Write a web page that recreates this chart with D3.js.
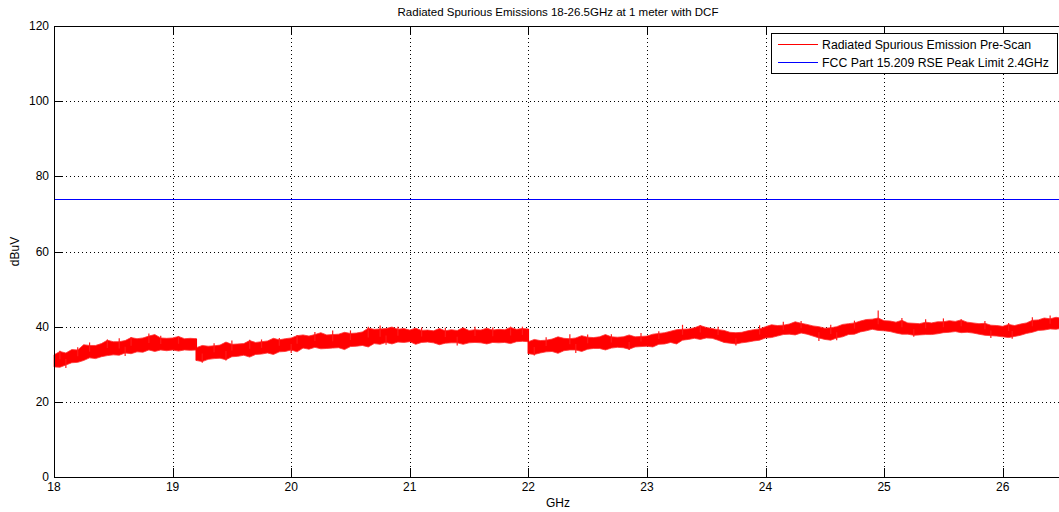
<!DOCTYPE html>
<html><head><meta charset="utf-8">
<script src="https://cdn.jsdelivr.net/npm/d3@7"></script>
<style>
body{margin:0;background:#fff;}
svg{display:block;font-family:"Liberation Sans",Arial,Helvetica,sans-serif;}
</style></head>
<body><svg id="c" width="1059" height="512"></svg>
<script>
const title = "Radiated Spurious Emissions 18-26.5GHz at 1 meter with DCF";
const xLabel = "GHz", yLabel = "dBuV";
const xTicks = [18,19,20,21,22,23,24,25,26];
const yTicks = [0,20,40,60,80,100,120];
const seriesNames = ["Radiated Spurious Emission Pre-Scan","FCC Part 15.209 RSE Peak Limit 2.4GHz"];
const limitValue = 74;
// trace envelope (upper / lower), 0.05 GHz steps per segment; segments start at these GHz
const segStart = [18.0, 19.2, 22.0];
const segStep = 0.05;
const seg1Hi = [32.5,33.4,33.0,33.9,33.8,35.2,35.0,35.0,35.5,36.4,36.0,36.0,36.3,37.1,36.8,37.0,37.5,37.9,37.0,36.9,37.0,37.4,36.8,36.9,36.8];
const seg1Lo = [29.3,29.2,29.8,30.4,30.5,31.0,31.7,31.5,32.0,32.3,32.5,32.4,33.0,32.8,33.3,33.2,33.8,33.4,33.8,33.6,33.8,33.5,33.8,33.7,33.8];
const seg2Hi = [34.4,35.0,34.8,34.9,35.1,35.9,35.3,35.4,35.5,36.3,35.8,36.0,36.2,36.9,36.5,36.8,37.0,37.6,37.8,37.5,37.9,38.4,37.8,37.9,38.0,38.5,38.2,38.3,38.6,39.6,39.3,39.4,39.5,39.9,39.3,39.5,39.1,39.6,39.0,39.1,38.9,39.5,38.9,39.2,39.0,39.7,39.0,39.2,39.1,39.6,39.1,39.3,39.2,39.8,39.3,39.5,39.4];
const seg2Lo = [31.0,30.7,31.3,31.5,31.6,31.2,32.0,32.1,32.4,31.9,32.6,32.7,33.0,32.6,33.3,33.4,33.8,33.3,34.3,34.0,34.5,34.1,34.2,34.3,34.4,33.9,34.7,34.8,35.0,34.6,35.5,35.3,35.8,35.4,35.9,35.8,36.0,35.3,35.8,35.9,35.7,35.2,35.6,35.7,35.7,35.3,35.7,35.8,35.7,35.4,35.8,35.7,35.8,35.5,36.0,36.1,36.0];
const seg3Hi = [36.0,36.6,36.3,36.4,36.7,37.3,36.9,36.8,37.0,37.6,37.2,37.1,37.3,37.9,37.3,37.2,37.3,37.8,37.3,37.4,37.5,38.0,38.2,38.4,38.8,39.2,39.3,39.4,39.7,40.3,39.8,39.5,39.2,39.0,38.5,38.4,38.5,38.9,39.2,39.4,40.0,40.5,40.3,40.4,40.7,41.3,40.9,40.6,40.2,40.0,39.6,39.7,40.0,40.6,40.8,41.0,41.5,41.9,42.0,42.3,41.6,41.5,41.2,41.7,41.0,40.9,40.8,41.2,41.0,41.3,41.3,41.6,41.4,41.8,41.2,41.0,40.8,40.9,40.4,40.3,40.1,40.6,40.3,40.7,41.0,41.7,41.8,42.3,42.1,42.5,42.2];
const seg3Lo = [32.8,32.6,33.0,33.3,33.4,32.9,33.6,33.8,33.8,33.4,34.0,34.2,34.2,33.8,34.3,34.5,34.4,34.0,34.6,34.7,34.8,34.6,35.3,35.4,35.8,35.4,36.4,36.6,36.9,36.6,37.0,36.9,36.4,35.8,35.6,35.4,35.7,35.9,36.2,36.4,37.0,37.1,37.5,37.9,38.0,37.8,38.3,38.0,37.5,37.0,36.6,36.4,37.0,37.3,37.9,38.0,38.6,38.9,39.3,39.0,38.9,38.7,38.3,38.0,38.0,37.7,37.8,37.9,37.9,38.1,38.4,38.5,38.7,38.4,38.5,38.3,38.0,37.7,37.6,37.5,37.3,37.1,37.4,37.7,38.2,38.5,39.0,39.1,39.4,39.3,39.6];
// individual noise spikes reaching beyond the band (GHz, dBuV)
const spikeFreq = [18.05,18.2,18.3,18.45,18.55,18.65,18.8,18.9,19.05,19.35,19.5,19.65,19.75,19.9,20.05,20.2,20.35,20.5,20.65,20.75,20.9,21.1,21.3,21.55,21.7,21.85,21.95,22.15,22.35,22.5,22.7,22.95,23.1,23.3,23.45,23.6,23.95,24.15,24.3,24.55,24.75,24.95,25.15,25.35,25.5,25.65,25.85,26.05,26.25,26.4,
                   18.1,18.6,19.25,19.45,20.0,20.8,21.4,22.05,22.4,22.85,23.75,24.45,24.6,25.25,25.9,26.08];
const spikeVal  = [33.6,34.5,35.8,36.6,36.9,37.2,38.2,37.6,37.4,35.6,36.3,36.5,36.6,37.0,37.8,38.6,39.0,39.0,40.0,40.3,40.0,39.8,39.7,40.0,39.8,40.0,40.0,37.2,38.0,37.9,38.0,38.3,38.8,40.5,40.4,40.0,40.4,41.3,41.5,40.5,41.6,44.3,42.3,42.0,42.2,42.0,41.5,41.0,42.5,43.0,
                   29.0,32.2,30.4,31.0,33.0,35.2,35.0,32.3,33.0,33.8,35.0,36.2,36.4,37.3,37.0,36.8];

const svg = d3.select("#c");
const L=54, R=1062, T=26, B=477;
const x = d3.scaleLinear().domain([18,26.5]).range([L,R]);
const y = d3.scaleLinear().domain([0,120]).range([B,T]);

// grid
const g = svg.append("g");
g.selectAll(".gx").data(xTicks.filter(d=>d>18)).enter().append("line")
 .attr("x1",d=>Math.round(x(d))+0.5).attr("x2",d=>Math.round(x(d))+0.5).attr("y1",T).attr("y2",B)
 .attr("stroke","#000").attr("stroke-width",1).attr("stroke-dasharray","1,3");
g.selectAll(".gy").data(yTicks.filter(d=>d>0&&d<120)).enter().append("line")
 .attr("y1",d=>Math.round(y(d))+0.5).attr("y2",d=>Math.round(y(d))+0.5).attr("x1",L).attr("x2",R)
 .attr("stroke","#000").attr("stroke-width",1).attr("stroke-dasharray","1,3");

// trace
const segs = [[seg1Hi,seg1Lo],[seg2Hi,seg2Lo],[seg3Hi,seg3Lo]].map((p,si)=>p[0].map((h,i)=>({f:segStart[si]+i*segStep,hi:h,lo:p[1][i]})));
const all = segs.flat();
const area = d3.area().x(d=>x(d.f)).y0(d=>y(d.lo)).y1(d=>y(d.hi));
segs.forEach(s=>{
  svg.append("path").attr("d",area(s)).attr("fill","#ff0000").attr("stroke","#ff3030").attr("stroke-width",0.8);
});
for(let si=1;si<segs.length;si++){
  const prev=segs[si-1][segs[si-1].length-1], cur=segs[si][0];
  svg.append("line").attr("x1",x(cur.f)).attr("x2",x(cur.f)).attr("y1",y(prev.hi)).attr("y2",y(cur.lo))
   .attr("stroke","#ff0000").attr("stroke-width",1.5);
}
// spikes: from band middle at that frequency to spike value
function mid(f){ let best=all[0]; all.forEach(d=>{ if(Math.abs(d.f-f)<Math.abs(best.f-f)) best=d; }); return (best.hi+best.lo)/2; }
svg.selectAll(".sp").data(spikeFreq).enter().append("line")
 .attr("x1",d=>x(d)).attr("x2",d=>x(d)).attr("y1",d=>y(mid(d))).attr("y2",(d,i)=>y(spikeVal[i]))
 .attr("stroke","#ff1a1a").attr("stroke-width",1.2);

// limit
svg.append("line").attr("x1",L).attr("x2",R).attr("y1",Math.round(y(limitValue))+0.5).attr("y2",Math.round(y(limitValue))+0.5)
 .attr("stroke","#0000ff").attr("stroke-width",1);

// axes box
const ax = svg.append("g").attr("stroke","#000").attr("stroke-width",1);
ax.append("line").attr("x1",L+0.5).attr("x2",L+0.5).attr("y1",T).attr("y2",B+0.5);
ax.append("line").attr("x1",L).attr("x2",R).attr("y1",B+0.5).attr("y2",B+0.5);
ax.append("line").attr("x1",L).attr("x2",R).attr("y1",T+0.5).attr("y2",T+0.5);
const tl=9;
xTicks.forEach(d=>{const xx=Math.round(x(d))+0.5;
  ax.append("line").attr("x1",xx).attr("x2",xx).attr("y1",B).attr("y2",B-tl);
  ax.append("line").attr("x1",xx).attr("x2",xx).attr("y1",T).attr("y2",T+tl);});
yTicks.forEach(d=>{const yy=Math.round(y(d))+0.5;
  ax.append("line").attr("x1",L).attr("x2",L+tl).attr("y1",yy).attr("y2",yy);});

// tick labels
svg.selectAll(".xl").data(xTicks).enter().append("text")
 .attr("x",d=>x(d)).attr("y",B+14).attr("text-anchor","middle").attr("font-size","12px").attr("fill","#000").text(d=>d);
svg.selectAll(".yl").data(yTicks).enter().append("text")
 .attr("x",L-5).attr("y",d=>y(d)+4).attr("text-anchor","end").attr("font-size","12px").attr("fill","#000").text(d=>d);

// titles
svg.append("text").attr("x",(L+R)/2).attr("y",16).attr("text-anchor","middle").attr("font-size","11.5px").text(title);
svg.append("text").attr("x",(L+R)/2).attr("y",507).attr("text-anchor","middle").attr("font-size","12px").text(xLabel);
svg.append("text").attr("transform","translate(19,"+((T+B)/2)+") rotate(-90)").attr("text-anchor","middle").attr("font-size","12px").text(yLabel);

// legend
const lg = svg.append("g");
lg.append("rect").attr("x",771.5).attr("y",33.5).attr("width",286).attr("height",40).attr("fill","#fff").attr("stroke","#000");
const lc=["#ff0000","#0000ff"];
seriesNames.forEach((n,i)=>{
  const yy = 44.5+i*18;
  lg.append("line").attr("x1",778).attr("x2",818).attr("y1",yy).attr("y2",yy).attr("stroke",lc[i]).attr("stroke-width",1);
  lg.append("text").attr("x",822).attr("y",yy+4).attr("font-size","12.3px").text(n);
});
</script></body></html>
